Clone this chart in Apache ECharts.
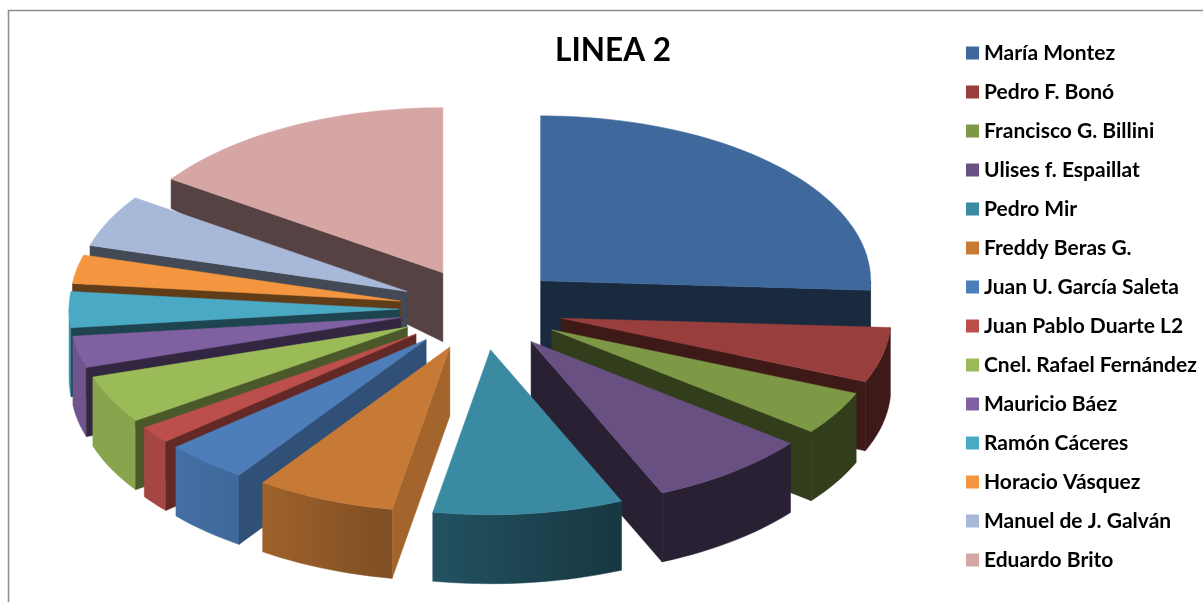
<!DOCTYPE html>
<html>
<head>
<meta charset="utf-8">
<style>html,body{margin:0;padding:0;background:#fff}#c{width:1203px;height:602px}</style>
<script src="https://cdn.jsdelivr.net/npm/echarts@6/dist/echarts.min.js"></script>
</head>
<body>
<div id="c"></div>
<script>
const categories = ['María Montez','Pedro F. Bonó','Francisco G. Billini','Ulises f. Espaillat','Pedro Mir','Freddy Beras G.','Juan U. García Saleta','Juan Pablo Duarte L2','Cnel. Rafael Fernández','Mauricio Báez','Ramón Cáceres','Horacio Vásquez','Manuel de J. Galván','Eduardo Brito'];
const shares = [25.9,5.4,4.3,7.9,9.3,6.8,4.1,1.7,4.7,3.1,3.5,2.8,5.1,15.4];
const colors = ['#3F699C','#983F3D','#7E9946','#695083','#3A8AA2','#C67A36','#4D7EBA','#BC4F4B','#9BBA58','#7F60A0','#4AAAC5','#F3963F','#A7B8D8','#D6A6A5'];

const CX = 481, CY = 309, RX = 330, RY = 165, EXPLODE = 82, H_FRONT = 69, H_MIN = 25;
const total = shares.reduce((a, b) => a + b, 0);
const rad = d => d * Math.PI / 180;

function shade(hex, k) {
  const n = parseInt(hex.slice(1), 16);
  const c = [(n >> 16) & 255, (n >> 8) & 255, n & 255].map(v => Math.round(v * k));
  return 'rgb(' + c.join(',') + ')';
}
function sideShade(a) {
  if (a < 180) return 0.4;
  return Math.max(0.4, 0.83 - (a - 190) * 0.0078);
}
function wallHeight(v) { // v: -1 (back) .. 1 (front), relative to the slice apex
  return v >= 0 ? H_FRONT : Math.max(H_MIN, H_FRONT + (H_FRONT - 31) * v / 0.545);
}

let acc = 0;
const slices = shares.map((s, i) => {
  const a0 = acc * 360 / total; acc += s;
  const a1 = acc * 360 / total;
  return { i, a0, a1, mid: (a0 + a1) / 2 };
});
const rank = slices.slice().sort((p, q) => Math.cos(rad(q.mid)) - Math.cos(rad(p.mid)));
rank.forEach((s, k) => { s.z = 2 + k; });

function renderSlice(s) {
  const col = colors[s.i];
  const ax = CX + EXPLODE * Math.sin(rad(s.mid));
  const ay = CY - EXPLODE * 0.5 * Math.cos(rad(s.mid));
  const rim = (a) => [ax + RX * Math.sin(rad(a)), ay - RY * Math.cos(rad(a)), -Math.cos(rad(a))];
  const down = p => [p[0], p[1] + wallHeight(p[2])];
  const sweep = (from, to) => {
    const pts = [];
    const n = Math.max(4, Math.ceil((to - from) / 2));
    for (let k = 0; k <= n; k++) pts.push(rim(from + (to - from) * k / n));
    return pts;
  };
  const apex = [ax, ay, 0];
  const poly = (pts, fill) => ({
    type: 'polygon', shape: { points: pts.map(p => [p[0], p[1]]) },
    style: { fill: fill, stroke: fill, lineWidth: 0.5 }, silent: true
  });
  const grad = {
    type: 'linear', x: 180, y: 0, x2: 622, y2: 0, global: true,
    colorStops: [
      { offset: 0, color: shade(col, 0.88) },
      { offset: 0.186, color: shade(col, 0.8) },
      { offset: 0.475, color: shade(col, 0.64) },
      { offset: 1, color: shade(col, 0.4) }
    ]
  };
  const wall = (a) => {
    const p = rim(a);
    return poly([apex, p, down(p), down(apex)], shade(col, sideShade(a)));
  };
  const children = [];
  // outer wall: only the part of the rim that faces the viewer
  const f0 = Math.max(s.a0, 90), f1 = Math.min(s.a1, 270);
  if (f1 > f0) {
    const arc = sweep(f0, f1);
    children.push(poly(arc.concat(arc.slice().reverse().map(down)), grad));
  }
  // cut face: only the one that can be seen
  if (s.a1 <= 180) children.push(wall(s.a1));
  else if (s.a0 >= 180) children.push(wall(s.a0));
  children.push(poly([apex].concat(sweep(s.a0, s.a1)), col));
  return { type: 'group', children };
}

const series = slices.map(s => ({
  type: 'custom',
  name: categories[s.i],
  coordinateSystem: 'none',
  data: [shares[s.i]],
  z: s.z,
  animation: false,
  silent: true,
  itemStyle: { color: colors[s.i] },
  renderItem: () => renderSlice(s)
}));

const chart = echarts.init(document.getElementById('c'), null, { renderer: 'canvas' });
chart.setOption({
  animation: false,
  backgroundColor: '#fff',
  title: {
    text: 'LINEA 2', left: 608, top: 30, textAlign: 'center',
    textStyle: { fontFamily: 'Lato', fontWeight: 'bold', fontSize: 31.5, color: '#000' }
  },
  legend: {
    orient: 'vertical', left: 961, top: 37, data: categories, icon: 'rect',
    itemWidth: 13, itemHeight: 13, itemGap: 17, selectedMode: false,
    textStyle: { fontFamily: 'Lato', fontWeight: 'bold', fontSize: 21, color: '#000', height: 22, lineHeight: 22 }
  },
  graphic: [{
    type: 'polyline', silent: true,
    shape: { points: [[8.5, 602], [8.5, 10.5], [1203, 10.5]] },
    style: { stroke: '#8c8c8c', lineWidth: 1.5, fill: null }
  }],
  series: series
});
</script>
</body>
</html>
